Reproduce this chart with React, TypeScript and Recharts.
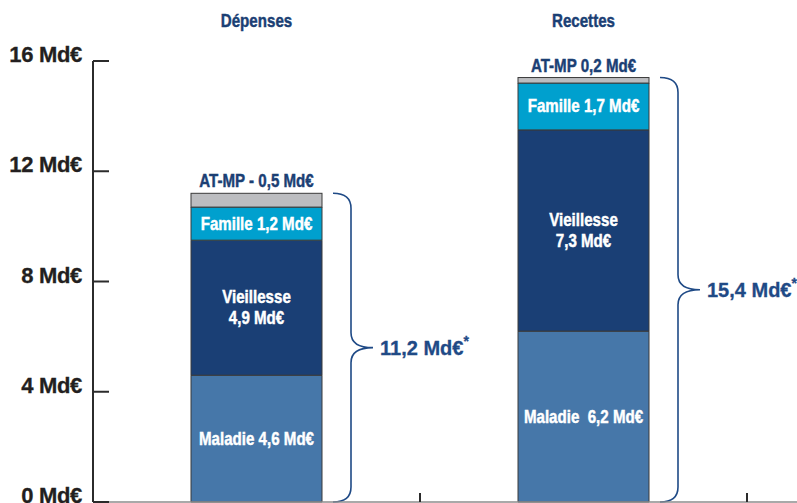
import React from 'react';
import { BarChart, Bar, XAxis, YAxis, LabelList } from 'recharts';

const categories = ['Dépenses', 'Recettes'];
const maladie = [4.6, 6.2];
const vieillesse = [4.9, 7.3];
const famille = [1.2, 1.7];
const atmp = [0.5, 0.2];
const totals = [11.2, 15.4];
const atmpLabels = ['AT-MP - 0,5 Md€', 'AT-MP 0,2 Md€'];
const maladieLabels = ['Maladie 4,6 Md€', 'Maladie  6,2 Md€'];
const yTicks = [0, 4, 8, 12, 16];

const data = categories.map((name, i) => ({
  name,
  idx: i,
  maladie: maladie[i],
  vieillesse: vieillesse[i],
  famille: famille[i],
  atmp: atmp[i],
  total: totals[i],
}));

const WIDE = "'Liberation Sans', Arial, 'DejaVu Sans', sans-serif";
const DARK_BLUE = '#1B3F74';
const BRACE_BLUE = '#1F4A86';
const C_MALADIE = '#4677A9';
const C_VIEIL = '#1A3F75';
const C_FAM = '#00A0CE';
const C_ATMP = '#BCBDC0';
const BAR_STROKE = '#3a3a3a';
const SQUEEZE = 0.84;

const fmt = (v: number) => v.toFixed(1).replace('.', ',');

// Condensed bold text: Liberation Sans Bold squeezed horizontally (like Arial Narrow)
const NText = ({ x, y, fill, size = 18, children }: any) => (
  <text
    transform={`translate(${x},${y}) scale(${SQUEEZE},1)`}
    x={0}
    y={0}
    textAnchor="middle"
    fill={fill}
    stroke={fill}
    strokeWidth={0.45}
    fontFamily={WIDE}
    fontWeight="bold"
    fontSize={size}
    style={{ whiteSpace: 'pre' }}
  >
    {children}
  </text>
);

const MaladieLabel = (props: any) => {
  const { x, y, width, height, index } = props;
  return (
    <NText x={x + width / 2} y={y + height / 2 + 6} fill="#fff">
      {maladieLabels[index]}
    </NText>
  );
};

const VieilLabel = (props: any) => {
  const { x, y, width, height, value } = props;
  const cx = x + width / 2;
  const cy = y + height / 2;
  return (
    <g>
      <NText x={cx} y={cy - 5} fill="#fff">Vieillesse</NText>
      <NText x={cx} y={cy + 16} fill="#fff">{`${fmt(value)} Md€`}</NText>
    </g>
  );
};

const FamLabel = (props: any) => {
  const { x, y, width, height, value } = props;
  return (
    <NText x={x + width / 2} y={y + height / 2 + 6} fill="#fff">
      {`Famille ${fmt(value)} Md€`}
    </NText>
  );
};

const AtmpShape = (props: any) => {
  const { x, y, width, height, payload, background, fill } = props;
  const idx = payload.idx;
  const bottom =
    background && background.height
      ? background.y + background.height
      : y + (height * payload.total) / payload.atmp;
  const top = y;
  const right = x + width;
  const x0 = right + 11;
  const xv = right + 29;
  const tip = right + 51;
  const mid = (top + bottom) / 2;
  const r = 15;
  const d = `M${x0},${top} Q${xv},${top} ${xv},${top + r} L${xv},${mid - r} Q${xv},${mid} ${tip},${mid} Q${xv},${mid} ${xv},${mid + r} L${xv},${bottom - r} Q${xv},${bottom} ${x0},${bottom}`;
  return (
    <g>
      <rect x={x} y={y} width={width} height={height} fill={fill} stroke={BAR_STROKE} strokeWidth={1} />
      <NText x={x + width / 2} y={y - 6} fill={DARK_BLUE}>
        {atmpLabels[idx]}
      </NText>
      <path d={d} fill="none" stroke={BRACE_BLUE} strokeWidth={1.6} />
      <text
        x={tip + 7}
        y={mid + 7}
        fill={BRACE_BLUE}
        stroke={BRACE_BLUE}
        strokeWidth={0.3}
        fontFamily={WIDE}
        fontWeight="bold"
        fontSize={20}
      >
        {`${fmt(payload.total)} Md€`}
        <tspan dy={-9} fontSize={14}>*</tspan>
      </text>
    </g>
  );
};

const YTick = (props: any) => {
  const { x, y, payload } = props;
  const axisX = x + 11;
  return (
    <g>
      <line x1={axisX} y1={y} x2={axisX + 16} y2={y} stroke="#2b2b2b" strokeWidth={2} />
      <text
        x={x}
        y={y + 1}
        textAnchor="end"
        fill="#231F20"
        stroke="#231F20"
        strokeWidth={0.3}
        fontFamily={WIDE}
        fontWeight="bold"
        fontSize={22}
        letterSpacing={-0.3}
      >
        {`${payload.value} Md€`}
      </text>
    </g>
  );
};

const XTick = (props: any) => {
  const { x, y, payload } = props;
  const off = payload && payload.offset ? payload.offset : 0;
  const bx = x + off;
  return <line x1={bx} y1={y} x2={bx} y2={y - 9} stroke="#2b2b2b" strokeWidth={2} />;
};

const TopTick = (props: any) => {
  const { x, payload } = props;
  return (
    <NText x={x} y={27} fill={DARK_BLUE}>
      {payload.value}
    </NText>
  );
};

export default function App() {
  return (
    <div style={{ position: 'absolute', left: 0, top: 0, width: 797, height: 503, background: '#fff' }}>
      <BarChart
        width={797}
        height={503}
        data={data}
        margin={{ top: 0, right: 0, bottom: 0, left: 0 }}
        barCategoryGap={0}
      >
        <XAxis
          xAxisId="top"
          dataKey="name"
          orientation="top"
          height={61}
          axisLine={false}
          tickLine={false}
          tick={<TopTick />}
          interval={0}
          padding={{ left: 0, right: 50 }}
        />
        <XAxis
          dataKey="name"
          height={1}
          axisLine={{ stroke: '#8c8c8c', strokeWidth: 1.5 }}
          tickLine={false}
          tickSize={0}
          tickMargin={0}
          tick={<XTick />}
          interval={0}
          padding={{ left: 0, right: 50 }}
        />
        <YAxis
          width={93}
          domain={[0, 16]}
          ticks={yTicks}
          interval={0}
          axisLine={{ stroke: '#2b2b2b', strokeWidth: 2 }}
          tickLine={false}
          tickSize={0}
          tickMargin={11}
          tick={<YTick />}
        />
        <Bar dataKey="maladie" stackId="a" fill={C_MALADIE} stroke={BAR_STROKE} strokeWidth={1} barSize={131} isAnimationActive={false}>
          <LabelList dataKey="maladie" content={<MaladieLabel />} />
        </Bar>
        <Bar dataKey="vieillesse" stackId="a" fill={C_VIEIL} stroke={BAR_STROKE} strokeWidth={1} barSize={131} isAnimationActive={false}>
          <LabelList dataKey="vieillesse" content={<VieilLabel />} />
        </Bar>
        <Bar dataKey="famille" stackId="a" fill={C_FAM} stroke={BAR_STROKE} strokeWidth={1} barSize={131} isAnimationActive={false}>
          <LabelList dataKey="famille" content={<FamLabel />} />
        </Bar>
        <Bar dataKey="atmp" stackId="a" fill={C_ATMP} barSize={131} shape={<AtmpShape />} isAnimationActive={false} />
      </BarChart>
    </div>
  );
}
